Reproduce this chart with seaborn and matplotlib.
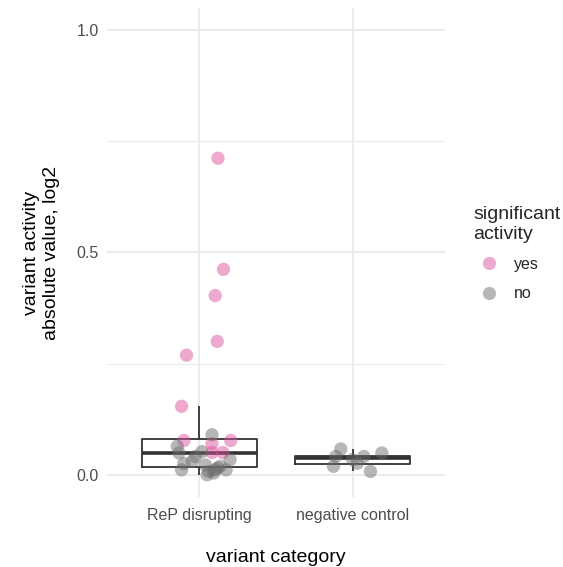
import matplotlib
matplotlib.use("Agg")
import matplotlib.pyplot as plt
import seaborn as sns
import pandas as pd
import numpy as np

# ---- data ----
categories = ["ReP disrupting", "negative control"]

rep_yes_values = [0.712, 0.462, 0.403, 0.300, 0.269, 0.154, 0.077, 0.070, 0.050, 0.050, 0.077]
rep_yes_jitter = [0.123, 0.159, 0.105, 0.118, -0.082, -0.114, -0.099, 0.084, 0.084, 0.155, 0.206]

rep_no_values = [0.090, 0.064, 0.049, 0.041, 0.052, 0.034, 0.025, 0.011, 0.022, 0.0075,
                 0.011, 0.019, 0.011, 0.000, 0.004, 0.015, 0.030]
rep_no_jitter = [0.084, -0.142, -0.131, -0.024, 0.019, 0.202, -0.099, -0.114, 0.041, 0.063,
                 0.105, 0.137, 0.176, 0.052, 0.095, 0.120, -0.045]

neg_no_values = [0.058, 0.041, 0.019, 0.026, 0.041, 0.049, 0.0075, 0.034]
neg_no_jitter = [-0.077, -0.110, -0.125, 0.030, 0.073, 0.190, 0.116, 0.000]

sig_levels = ["yes", "no"]
y_ticks = [0.0, 0.5, 1.0]

# ---- build table ----
rows = []
for v, j in zip(rep_yes_values, rep_yes_jitter):
    rows.append((categories[0], v, "yes", j))
for v, j in zip(rep_no_values, rep_no_jitter):
    rows.append((categories[0], v, "no", j))
for v, j in zip(neg_no_values, neg_no_jitter):
    rows.append((categories[1], v, "no", j))
df = pd.DataFrame(rows, columns=["category", "value", "significant", "jitter"])
df["xpos"] = df["category"].map({c: i for i, c in enumerate(categories)}) + df["jitter"]

# ---- figure ----
sns.set_theme(style="whitegrid")
plt.rcParams["font.family"] = ["Liberation Sans", "DejaVu Sans"]

fig = plt.figure(figsize=(5.63, 5.67), dpi=100)
ax = fig.add_axes([0.190, 0.1235, 0.600, 0.8625])

box_color = "#333333"
sns.boxplot(data=df, x="category", y="value", order=categories, ax=ax,
            width=0.75, fill=False, color=box_color, showcaps=False,
            showfliers=False, whis=1.5, linewidth=1.3,
            medianprops=dict(linewidth=2.6, color=box_color))

palette = {"yes": "#DD4F9A", "no": "#6A6A6A"}
sns.scatterplot(data=df, x="xpos", y="value", hue="significant", hue_order=sig_levels,
                palette=palette, alpha=0.48, s=92, linewidth=0, ax=ax, zorder=3)

ax.set_xlim(-0.6, 1.6)
ax.set_ylim(-0.05, 1.05)
ax.set_yticks(y_ticks)
ax.set_yticklabels([f"{t:.1f}" for t in y_ticks])
ax.set_yticks([0.25, 0.75], minor=True)
ax.set_xticks([0, 1])
ax.set_xticklabels(categories)

grid_c = "#EBEBEB"
ax.grid(which="major", color=grid_c, linewidth=1.4)
ax.grid(which="minor", axis="y", color=grid_c, linewidth=0.8)
ax.set_axisbelow(True)
for s in ax.spines.values():
    s.set_visible(False)
ax.tick_params(axis="y", which="both", length=0, labelsize=11.5,
               labelcolor="#4D4D4D", pad=6)
ax.tick_params(axis="x", which="both", length=0, labelsize=11.5,
               labelcolor="#4D4D4D", pad=8)

ax.set_xlabel("variant category", fontsize=14, color="black", labelpad=19)
ax.set_ylabel("variant activity\nabsolute value, log2", fontsize=14, color="black",
              labelpad=12)

handles, labels = ax.get_legend_handles_labels()
ax.get_legend().remove()
for h in handles:
    try:
        h.set_markersize(9.5)
    except Exception:
        pass
fig.legend(handles, labels, title="significant\nactivity", loc="upper left",
           bbox_to_anchor=(0.829, 0.648), frameon=False, fontsize=11.5,
           title_fontsize=14, alignment="left", handletextpad=0.55,
           labelspacing=0.9, borderaxespad=0)

fig.savefig("out.png", dpi=100, facecolor="white")
